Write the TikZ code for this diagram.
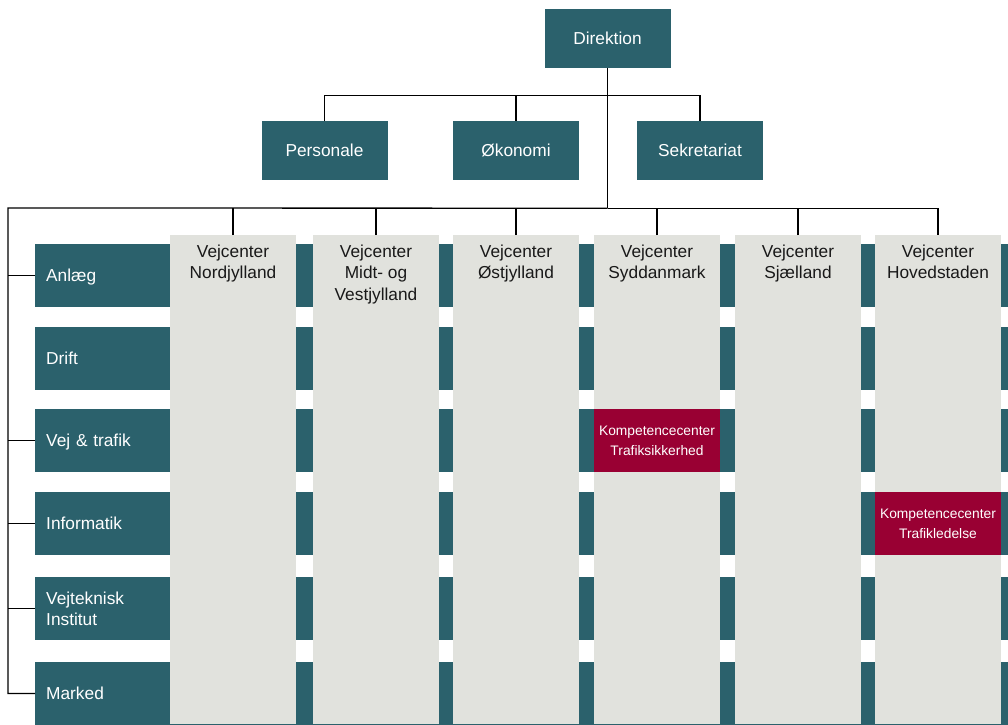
\documentclass[tikz,border=0pt]{standalone}
\usepackage{fontspec}
\setmainfont{Liberation Sans}
\usepackage{xcolor}
\usepackage{tikz}
\usetikzlibrary{positioning}

\definecolor{vdteal}{RGB}{43,97,108}
\definecolor{vdgray}{RGB}{225,226,221}
\definecolor{vdred}{RGB}{153,0,51}

\begin{document}
\begin{tikzpicture}[
    x=1pt, y=-1pt,
    unit/.style={rectangle, fill=vdteal, text=white, minimum width=126pt, minimum height=59pt, text depth=0pt, align=center, font=\fontsize{17.3}{22}\selectfont},
    dept/.style={rectangle, fill=vdteal, text=white, anchor=west, minimum height=63pt, text width=951pt, inner xsep=11pt, align=left, font=\fontsize{17.3}{21}\selectfont},
    deptline/.style={dept, text depth=0pt},
    region/.style={rectangle, fill=vdgray, anchor=north, minimum width=126pt, minimum height=489pt, inner sep=0pt},
    regiontext/.style={inner sep=0pt, align=center, text=black!90, font=\fontsize{17.3}{21.5}\selectfont},
    competence/.style={rectangle, fill=vdred, text=white, minimum width=126pt, minimum height=63pt, align=center, font=\fontsize{13.8}{20}\selectfont},
    link/.style={draw=black, line width=1.3pt}
]
\useasboundingbox (0,0) rectangle (1008,724);

% Top management
\node[unit] (direktion) at (607.5,38.5) {Direktion};

% Staff units
\node[unit] (personale) at (324.5,150.5) {Personale};
\node[unit] (oekonomi) at (516,150.5) {Økonomi};
\node[unit] (sekretariat) at (700,150.5) {Sekretariat};

% Departments (rows behind the road centres)
\node[deptline] (anlaeg) at (35,275.5) {Anlæg};
\node[deptline] (drift) at (35,358.5) {Drift};
\node[deptline] (vejtrafik) at (35,440.5) {Vej \& trafik};
\node[deptline] (informatik) at (35,523.5) {Informatik};
\node[dept] (vejteknisk) at (35,608.5) {Vejteknisk\\Institut};
\node[deptline] (marked) at (35,693.5) {Marked};

% Road centres (columns)
\node[region] (nord) at (233,235) {};
\node[region] (midtvest) at (376,235) {};
\node[region] (oest) at (516,235) {};
\node[region] (syd) at (657,235) {};
\node[region] (sjaelland) at (798,235) {};
\node[region] (hoved) at (938,235) {};

\node[regiontext, below=9.5pt of nord.north] (nordtxt) {Vejcenter\\Nordjylland};
\node[regiontext, below=9.5pt of midtvest.north] (midtvesttxt) {Vejcenter\\Midt- og\\Vestjylland};
\node[regiontext, below=9.5pt of oest.north] (oesttxt) {Vejcenter\\Østjylland};
\node[regiontext, below=9.5pt of syd.north] (sydtxt) {Vejcenter\\Syddanmark};
\node[regiontext, below=9.5pt of sjaelland.north] (sjaellandtxt) {Vejcenter\\Sjælland};
\node[regiontext, below=9.5pt of hoved.north] (hovedtxt) {Vejcenter\\Hovedstaden};

% Competence centres
\node[competence] (trafiksikkerhed) at (syd.center |- vejtrafik.center) {Kompetencecenter\\Trafiksikkerhed};
\node[competence] (trafikledelse) at (hoved.center |- informatik.center) {Kompetencecenter\\Trafikledelse};

% Lines from management to staff
\coordinate[below=27pt of direktion.south] (staffbus);
\draw[link] (direktion.south) -- (staffbus) -| (personale.north);
\draw[link] (staffbus) -| (sekretariat.north);
\draw[link] (oekonomi.north) -- (oekonomi.north |- staffbus);

% Lines to road centres
\coordinate[below=140pt of direktion.south] (mainbus);
\draw[link] (staffbus) -- (mainbus);
\draw[link] (mainbus) -| (hoved.north);
\draw[link] (nord.north) -- (nord.north |- mainbus);
\draw[link] (midtvest.north) -- (midtvest.north |- mainbus);
\draw[link] (oest.north) -- (oest.north |- mainbus);
\draw[link] (syd.north) -- (syd.north |- mainbus);
\draw[link] (sjaelland.north) -- (sjaelland.north |- mainbus);

% Lines to departments
\coordinate (leftbus) at (8,208);
\draw[link] (mainbus) -- (leftbus) |- (marked.west);
\draw[link] (leftbus |- anlaeg.west) -- (anlaeg.west);
\draw[link] (leftbus |- vejtrafik.west) -- (vejtrafik.west);
\draw[link] (leftbus |- informatik.west) -- (informatik.west);
\draw[link] (leftbus |- vejteknisk.west) -- (vejteknisk.west);

\end{tikzpicture}
\end{document}
